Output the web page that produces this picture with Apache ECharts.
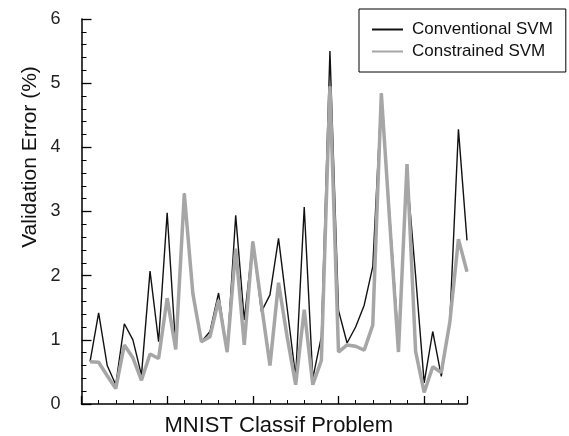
<!DOCTYPE html>
<html>
<head>
<meta charset="utf-8">
<script src="https://cdn.jsdelivr.net/npm/echarts@6/dist/echarts.min.js"></script>
<style>
html,body{margin:0;padding:0;background:#fff;}
#c{width:569px;height:436px;}
</style>
</head>
<body>
<div id="c"></div>
<script>
// Problem index (1..45)
const problems = [1,2,3,4,5,6,7,8,9,10,11,12,13,14,15,16,17,18,19,20,21,22,23,24,25,26,27,28,29,30,31,32,33,34,35,36,37,38,39,40,41,42,43,44,45];
const conventionalSVM = [0.66,1.42,0.6,0.30,1.25,1.0,0.45,2.07,0.97,2.98,0.87,3.28,1.72,0.97,1.13,1.73,0.81,2.94,1.31,2.53,1.44,1.70,2.58,1.5,0.42,3.07,0.4,1.05,5.50,1.46,0.95,1.2,1.54,2.14,4.84,2.9,0.98,3.6,2.0,0.33,1.13,0.43,1.3,4.28,2.55];
const constrainedSVM = [0.66,0.65,0.44,0.24,0.92,0.72,0.37,0.78,0.71,1.65,0.85,3.28,1.72,0.97,1.05,1.62,0.81,2.42,0.92,2.53,1.55,0.6,1.89,1.05,0.3,1.47,0.3,0.68,4.95,0.81,0.92,0.9,0.84,1.23,4.84,2.8,0.81,3.74,0.82,0.18,0.58,0.49,1.28,2.57,2.06];
const seriesNames = ['Conventional SVM','Constrained SVM'];
const yTicks = [0,1,2,3,4,5,6];
const xTitle = 'MNIST Classif Problem';
const yTitle = 'Validation Error (%)';

const font = 'Liberation Sans, Arial, sans-serif';
const chart = echarts.init(document.getElementById('c'), null, {renderer:'canvas'});
chart.setOption({
  animation:false,
  backgroundColor:'#fff',
  grid:{left:81.5, right:102, top:19, bottom:32, containLabel:false, outerBoundsMode:'none'},
  legend:{
    orient:'vertical', left:359, top:9,
    padding:[12,13,12,12],
    borderColor:'#000', borderWidth:1,
    itemWidth:31, itemHeight:14, itemGap:5,
    itemStyle:{opacity:0},
    textStyle:{fontFamily:font, fontSize:17, color:'#111', lineHeight:16, padding:[0,0,0,4]},
    data:seriesNames
  },
  xAxis:{
    type:'value', min:0, max:45, interval:10,
    axisLine:{lineStyle:{color:'#000', width:1.5}},
    axisTick:{inside:true, length:8, lineStyle:{color:'#000', width:1.3}},
    minorTick:{show:true, splitNumber:5, length:4, lineStyle:{color:'#000', width:1}},
    axisLabel:{show:false},
    splitLine:{show:false},
    name:xTitle, nameLocation:'middle', nameGap:11,
    nameTextStyle:{fontFamily:font, fontSize:22, color:'#111', padding:[0,0,0,9]}
  },
  yAxis:{
    type:'value', min:yTicks[0], max:yTicks[yTicks.length-1], interval:1,
    axisLine:{show:true, lineStyle:{color:'#000', width:1.5}},
    axisTick:{show:true, inside:true, length:10, lineStyle:{color:'#000', width:1.3}},
    minorTick:{show:true, splitNumber:5, length:5, lineStyle:{color:'#000', width:1}},
    axisLabel:{fontFamily:font, fontSize:18, color:'#222', margin:21},
    splitLine:{show:false}
  },
  graphic:[{
    type:'text', x:30, y:157, rotation:Math.PI/2,
    style:{text:yTitle, fontFamily:font, fontSize:21, fill:'#111', textAlign:'center', textVerticalAlign:'middle'}
  }],
  series:[
    {name:seriesNames[0], type:'line', symbol:'none', z:2,
     lineStyle:{color:'#111', width:1.4}, itemStyle:{color:'#111'},
     data:problems.map((p,i)=>[p, conventionalSVM[i]])},
    {name:seriesNames[1], type:'line', symbol:'none', z:3,
     lineStyle:{color:'#a6a6a6', width:3.5}, itemStyle:{color:'#a6a6a6'},
     data:problems.map((p,i)=>[p, constrainedSVM[i]])}
  ]
});
</script>
</body>
</html>
